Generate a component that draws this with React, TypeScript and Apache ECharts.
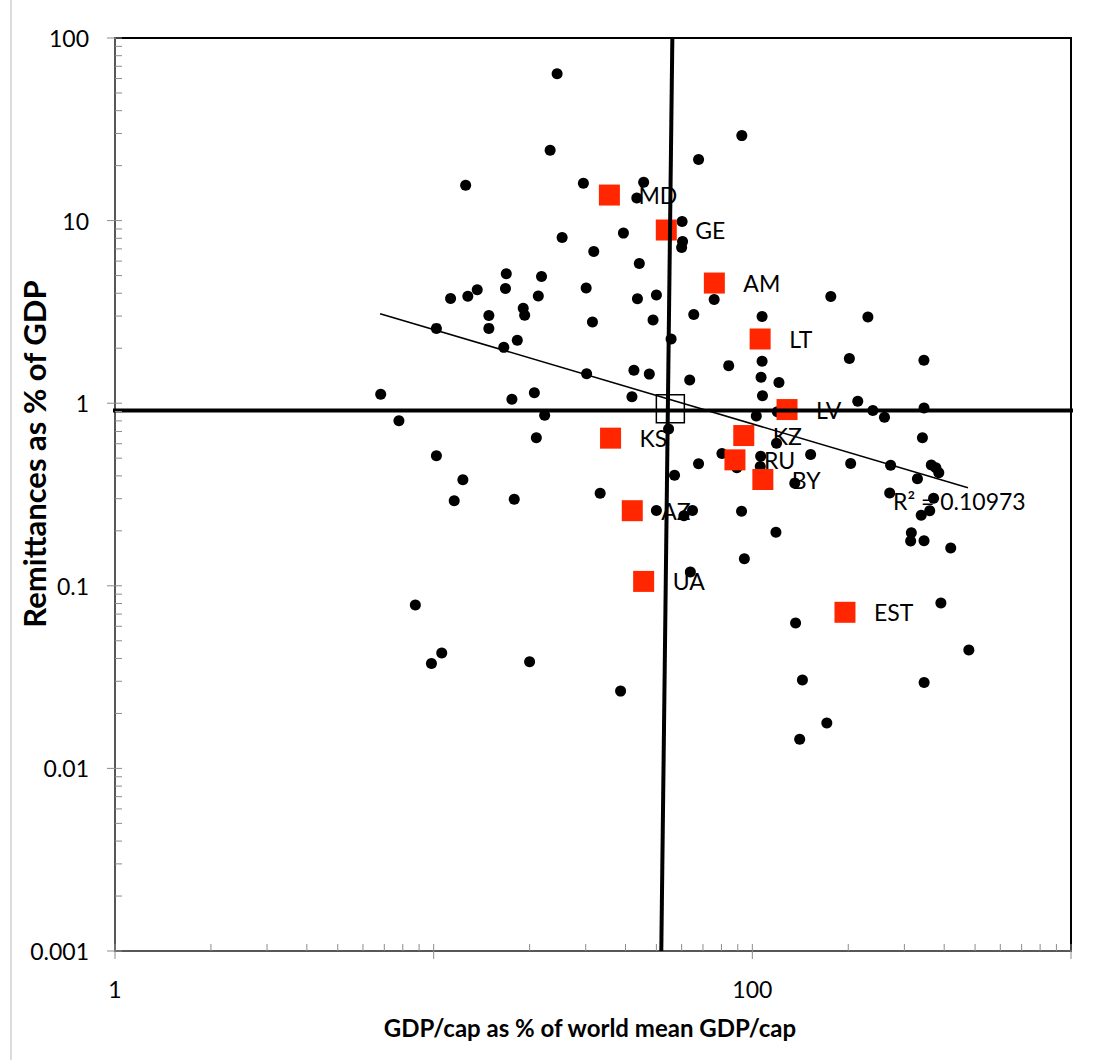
import React, { useEffect, useRef } from "react";
import * as echarts from "echarts";

// GDP per capita as % of world mean GDP/cap (x) and remittances as % of GDP (y)
const GDP_PCT = [
  24.4, 92.7, 23.2, 67.8, 12.6, 29.5, 45.6, 43.4, 60.2, 60.4,
  60.0, 39.4, 25.3, 31.8, 44.2, 16.9, 21.8, 13.7, 12.8, 11.3,
  16.8, 21.3, 30.1, 43.6, 50.0, 75.9, 176.3, 19.1, 19.3, 14.9,
  31.5, 48.8, 65.5, 107.3, 230.5, 10.2, 14.9, 18.3, 16.6, 55.6,
  107.3, 84.3, 201.6, 345.5, 30.2, 42.5, 47.5, 63.6, 106.5, 121.2,
  107.6, 41.9, 6.82, 17.6, 20.7, 22.3, 7.78, 214.2, 238.9, 259.8,
  345.8, 102.9, 119.8, 54.6, 21.0, 119.1, 341.8, 10.2, 80.3, 106.2,
  152.4, 67.8, 57.0, 203.5, 271.6, 364.4, 376.7, 384.7, 12.35, 329.7,
  135.9, 11.6, 17.9, 33.3, 269.8, 370.5, 50.0, 61.0, 64.9, 92.5,
  360.3, 338.8, 118.6, 315.5, 313.9, 345.8, 419.4, 94.4, 63.9, 8.76,
  390.6, 136.7, 10.6, 9.84, 20.0, 38.6, 478, 143.6, 346.0, 171.3,
  140.8, 89.4, 105.9,
];
const REMIT_PCT = [
  63.8, 29.2, 24.3, 21.6, 15.6, 16.0, 16.2, 13.3, 9.89, 7.69,
  7.12, 8.54, 8.08, 6.78, 5.83, 5.12, 4.945, 4.18, 3.854, 3.748,
  4.25, 3.864, 4.28, 3.734, 3.918, 3.702, 3.845, 3.313, 3.033, 3.026,
  2.784, 2.858, 3.064, 2.981, 2.969, 2.569, 2.569, 2.214, 2.022, 2.247,
  1.699, 1.606, 1.756, 1.717, 1.448, 1.514, 1.443, 1.341, 1.386, 1.3,
  1.1, 1.085, 1.119, 1.05, 1.14, 0.858, 0.801, 1.024, 0.913, 0.838,
  0.94, 0.85, 0.899, 0.723, 0.646, 0.6035, 0.647, 0.516, 0.53, 0.5125,
  0.5234, 0.4661, 0.4027, 0.4673, 0.4574, 0.4585, 0.4426, 0.4156, 0.3805, 0.3853,
  0.365, 0.2924, 0.2976, 0.3213, 0.3222, 0.3014, 0.2585, 0.2418, 0.2585, 0.2562,
  0.2578, 0.2433, 0.1967, 0.1952, 0.1758, 0.1765, 0.1612, 0.1407, 0.1191, 0.0784,
  0.0804, 0.0625, 0.0428, 0.0375, 0.0384, 0.0265, 0.0445, 0.0305, 0.0295, 0.01774,
  0.01444, 0.4426, 0.45,
];

// Highlighted post-Soviet countries
const COUNTRY_CODES = ["MD", "GE", "AM", "LT", "LV", "KS", "KZ", "RU", "BY", "AZ", "UA", "EST"];
const COUNTRY_GDP = [35.6, 53.7, 76.0, 105.8, 128.5, 35.9, 94.0, 88.2, 107.9, 42.0, 45.6, 195.3];
const COUNTRY_REMIT = [13.8, 8.88, 4.55, 2.247, 0.923, 0.6435, 0.665, 0.4895, 0.382, 0.2578, 0.1057, 0.0716];

// Power trend line y = a * x^b and its fit
const TREND_A = 8.325;
const TREND_B = -0.517;
const TREND_X_RANGE = [6.79, 474.9];
const TREND_R2 = "0.10973";

// Mean point and the two reference lines through it
const MEAN_POINT = [55.3, 0.931];
const V_LINE_X = [56.1, 51.8];
const V_LINE_Y = [100, 0.001];
const H_LINE_X = [0.878, 1056];
const H_LINE_Y = 0.913;

// Axes
const X_RANGE = [1, 1000];
const Y_RANGE = [0.001, 100];
const X_TICK_LABELS = ["1", "100"];
const Y_TICK_LABELS = ["0.001", "0.01", "0.1", "1", "10", "100"];
const MINOR_STEPS = [2, 3, 4, 5, 6, 7, 8, 9];
const X_DECADES = [1, 10, 100];
const Y_DECADES = [0.001, 0.01, 0.1, 1, 10];

const X_TITLE = "GDP/cap as % of world mean GDP/cap";
const Y_TITLE = "Remittances as % of GDP";

const FONT = "Lato, 'Noto Sans', sans-serif";
const TICK_COLOR = "#8c8c8c";
const AXIS_COLOR = "#575757";

const sameLog = (a: number, b: number) => Math.abs(Math.log10(a) - Math.log10(b)) < 1e-6;

export default function App() {
  const ref = useRef<HTMLDivElement>(null);

  useEffect(() => {
    if (!ref.current) return;
    const chart = echarts.init(ref.current, undefined, { renderer: "svg" });

    const dots = GDP_PCT.map((x, i) => [x, REMIT_PCT[i]]);
    const countries = COUNTRY_CODES.map((name, i) => ({ name, value: [COUNTRY_GDP[i], COUNTRY_REMIT[i]] }));
    const trend = TREND_X_RANGE.map((x) => [x, TREND_A * Math.pow(x, TREND_B)]);

    // tick marks: [x, y, major flag]
    const xTicks: number[][] = [];
    X_DECADES.concat([1000]).forEach((d) => xTicks.push([d, 1, 1]));
    X_DECADES.forEach((d) => MINOR_STEPS.forEach((m) => xTicks.push([d * m, 1, 0])));
    const yTicks: number[][] = [];
    Y_DECADES.concat([100]).forEach((d) => yTicks.push([1, d, 1]));
    Y_DECADES.forEach((d) => MINOR_STEPS.forEach((m) => yTicks.push([1, d * m, 0])));

    chart.setOption({
      animation: false,
      backgroundColor: "#ffffff",
      grid: {
        left: 115,
        top: 38,
        width: 956,
        height: 913,
        show: true,
        borderColor: "#000",
        borderWidth: 2,
        backgroundColor: "transparent",
      },
      xAxis: {
        type: "log",
        logBase: 10,
        min: X_RANGE[0],
        max: X_RANGE[1],
        axisLine: { show: true, lineStyle: { color: AXIS_COLOR, width: 2 } },
        axisTick: { show: false },
        splitLine: { show: false },
        axisLabel: {
          margin: 26,
          fontFamily: FONT,
          fontSize: 23,
          color: "#000",
          formatter: (v: number) => X_TICK_LABELS.find((t) => sameLog(Number(t), v)) || "",
        },
      },
      yAxis: {
        type: "log",
        logBase: 10,
        min: Y_RANGE[0],
        max: Y_RANGE[1],
        axisLine: { show: true, lineStyle: { color: AXIS_COLOR, width: 2 } },
        axisTick: { show: false },
        splitLine: { show: false },
        axisLabel: {
          margin: 26,
          fontFamily: FONT,
          fontSize: 23,
          color: "#000",
          formatter: (v: number) => Y_TICK_LABELS.find((t) => sameLog(Number(t), v)) || "",
        },
      },
      series: [
        {
          type: "scatter",
          data: dots,
          symbol: "circle",
          symbolSize: 11,
          itemStyle: { color: "#000", opacity: 1 },
          z: 2,
        },
        {
          type: "scatter",
          data: countries,
          symbol: "rect",
          symbolSize: 21,
          itemStyle: { color: "#FF2600", opacity: 1 },
          label: {
            show: true,
            position: "right",
            distance: 18.5,
            formatter: "{b}",
            fontFamily: FONT,
            fontSize: 23,
            lineHeight: 20,
            color: "#000",
          },
          z: 3,
        },
        {
          type: "line",
          data: trend,
          showSymbol: false,
          symbol: "none",
          lineStyle: { color: "#000", width: 1.5 },
          z: 4,
        },
        {
          type: "line",
          data: [
            [H_LINE_X[0], H_LINE_Y],
            [H_LINE_X[1], H_LINE_Y],
          ],
          symbol: "none",
          clip: false,
          lineStyle: { color: "#000", width: 4 },
          z: 5,
        },
        {
          type: "line",
          data: [
            [V_LINE_X[0], V_LINE_Y[0]],
            [V_LINE_X[1], V_LINE_Y[1]],
          ],
          symbol: "none",
          clip: false,
          lineStyle: { color: "#000", width: 4 },
          z: 5,
        },
        {
          type: "scatter",
          data: [MEAN_POINT],
          symbol: "rect",
          symbolSize: 28,
          itemStyle: { color: "rgba(0,0,0,0)", borderColor: "#000", borderWidth: 1.5, opacity: 1 },
          z: 6,
        },
        {
          type: "custom",
          data: xTicks,
          clip: false,
          silent: true,
          z: 7,
          encode: { x: 0, y: 1 },
          renderItem: (_p: any, api: any) => {
            const pt = api.coord([api.value(0), Y_RANGE[0]]);
            const major = api.value(2) === 1;
            return {
              type: "line",
              shape: { x1: pt[0], y1: pt[1] - 7, x2: pt[0], y2: pt[1] + (major ? 8 : 0) },
              style: { stroke: TICK_COLOR, lineWidth: 1 },
            };
          },
        },
        {
          type: "custom",
          data: yTicks,
          clip: false,
          silent: true,
          z: 7,
          encode: { x: 0, y: 1 },
          renderItem: (_p: any, api: any) => {
            const pt = api.coord([X_RANGE[0], api.value(1)]);
            const major = api.value(2) === 1;
            return {
              type: "line",
              shape: { x1: pt[0] - (major ? 8 : 0), y1: pt[1], x2: pt[0] + 7, y2: pt[1] },
              style: { stroke: TICK_COLOR, lineWidth: 1 },
            };
          },
        },
      ],
      graphic: [
        {
          type: "line",
          shape: { x1: 11, y1: 0, x2: 11, y2: 1060 },
          style: { stroke: "#d0d0d0", lineWidth: 1.5 },
          silent: true,
        },
        {
          type: "text",
          x: 893,
          y: 501,
          style: {
            text: "R² = " + TREND_R2,
            font: `23px ${FONT}`,
            fill: "#000",
            textAlign: "left",
            textVerticalAlign: "middle",
          },
          z: 10,
        },
        {
          type: "text",
          x: 590,
          y: 1027,
          style: {
            text: X_TITLE,
            font: `bold 24px ${FONT}`,
            fill: "#000",
            textAlign: "center",
            textVerticalAlign: "middle",
          },
        },
        {
          type: "text",
          x: 34,
          y: 454,
          rotation: Math.PI / 2,
          style: {
            text: Y_TITLE,
            font: `bold 31px ${FONT}`,
            fill: "#000",
            textAlign: "center",
            textVerticalAlign: "middle",
          },
        },
      ],
    });

    return () => chart.dispose();
  }, []);

  return (
    <div
      ref={ref}
      style={{ position: "fixed", left: 0, top: 0, width: 1107, height: 1060, background: "#fff" }}
    />
  );
}
